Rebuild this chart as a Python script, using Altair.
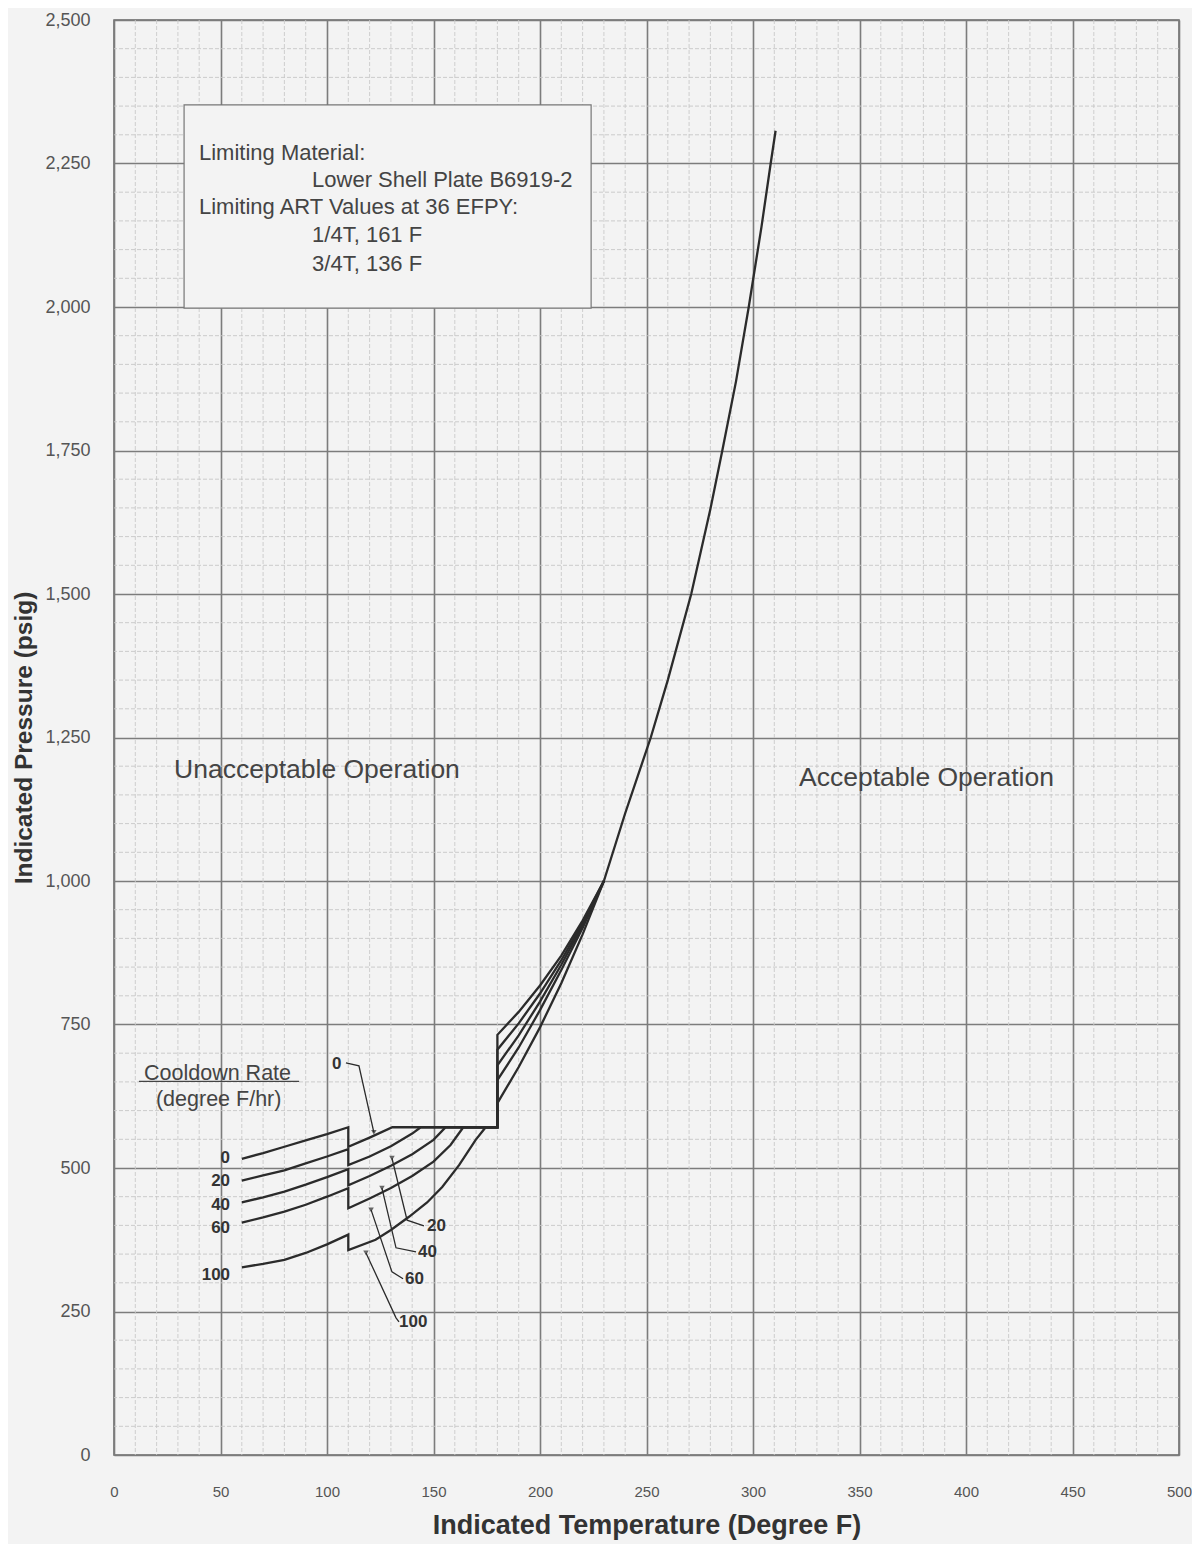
import altair as alt
import pandas as pd

# ---------------- data ----------------
rates = ["0", "20", "40", "60", "100"]

c0_T = [60, 70, 80, 90, 100, 110, 110, 120, 130.7, 180, 180, 190, 200, 210, 220, 230]
c0_P = [516, 526, 537, 548, 559, 571, 537, 553, 571, 571, 732, 772, 818, 870, 931, 1000]

c20_T = [60, 70, 80, 90, 100, 110, 110, 120, 130, 140, 144, 180, 180, 190, 200, 210, 220, 230]
c20_P = [478, 487, 496, 508, 520, 533, 505, 520, 538, 560, 571, 571, 706, 752, 804, 862, 927, 1000]

c40_T = [60, 70, 80, 90, 100, 110, 110, 120, 130, 140, 150, 155.7, 180, 180, 190, 200, 210, 220, 230]
c40_P = [440, 449, 459, 471, 484, 498, 470, 486, 504, 524, 549, 571, 571, 679, 731, 790, 854, 923, 1000]

c60_T = [60, 70, 80, 90, 100, 110, 110, 120, 130, 140, 150, 158, 164, 180, 180, 190, 200, 210, 220, 230]
c60_P = [405, 414, 424, 436, 450, 465, 430, 447, 465, 486, 511, 540, 571, 571, 653, 710, 775, 845, 918, 1000]

c100_T = [60, 70, 80, 90, 100, 110, 110, 122.8, 130, 138.5, 147, 154.1, 162, 169.8, 174.5, 180, 180,
          190, 200, 210, 220, 230]
c100_P = [327, 333, 340, 352, 367, 384, 357, 375, 392, 415, 440, 467, 505, 549, 571, 571, 613,
          676, 745, 822, 907, 1000]

common_T = [230, 240, 252, 260, 271, 280, 285.6, 292, 298, 304, 308.3, 310.6]
common_P = [1000, 1118, 1250, 1350, 1500, 1648, 1750, 1870, 2000, 2140, 2250, 2307]

# tick values
x_ticks = list(range(0, 501, 50))
y_ticks = list(range(0, 2501, 250))
x_minor = [v for v in range(0, 501, 10) if v % 50]
y_minor = [v for v in range(0, 2501, 50) if v % 250]

# curve labels (left side, right side)
left_lab_T = [54.5, 54.5, 54.5, 54.5, 54.5]
left_lab_P = [517, 477, 435, 395, 313]
right_lab_T = [102.3, 147.0, 142.7, 136.6, 133.8]
right_lab_P = [681, 399, 354, 307, 232]

# leader lines (one polyline per rate)
lead_T = [[108.9, 115.0, 122.0], [145.5, 137.6, 130.5], [141.8, 132.4, 125.8],
          [135.7, 130.5, 120.7], [133.8, 132.4, 118.3]]
lead_P = [[683, 678, 562], [399, 409, 517], [354, 361, 465], [307, 319, 427], [232, 239, 352]]

# ---------------- build tables ----------------
curves = {"0": (c0_T, c0_P), "20": (c20_T, c20_P), "40": (c40_T, c40_P),
          "60": (c60_T, c60_P), "100": (c100_T, c100_P), "steady": (common_T, common_P)}
rows = []
for name, (ts, ps) in curves.items():
    for i, (t, p) in enumerate(zip(ts, ps)):
        rows.append({"series": name, "i": i, "T": t, "P": p})
curve_df = pd.DataFrame(rows)

lead_rows = []
for r, ts, ps in zip(rates, lead_T, lead_P):
    for i, (t, p) in enumerate(zip(ts, ps)):
        lead_rows.append({"series": r, "i": i, "T": t, "P": p})
lead_df = pd.DataFrame(lead_rows)
tip_df = lead_df.groupby("series").tail(1)

left_df = pd.DataFrame({"T": left_lab_T, "P": left_lab_P, "lab": rates})
right_df = pd.DataFrame({"T": right_lab_T, "P": right_lab_P, "lab": rates})

FONT = "Liberation Sans"
INK = "#2b2b2b"
TXT = "#444444"
BG = "#f3f3f3"

xs = alt.Scale(domain=[0, 500], nice=False)
ys = alt.Scale(domain=[0, 2500], nice=False)

XAX = alt.Axis(
    values=x_ticks, title="Indicated Temperature (Degree F)", grid=True,
    gridColor="#7c7c7c", gridWidth=1.6, ticks=False, domain=False,
    labelExpr="format(datum.value, 'd')", labelFlush=False,
    labelFont=FONT, labelFontSize=15, labelColor="#555", labelPadding=29,
    titleFont=FONT, titleFontSize=27, titleFontWeight="bold", titleColor="#333",
    titlePadding=13)
YAX = alt.Axis(
    values=y_ticks, title="Indicated Pressure (psig)", grid=True,
    gridColor="#7c7c7c", gridWidth=1.6, ticks=False, domain=False,
    labelExpr="format(datum.value, ',')", labelFlush=False,
    labelFont=FONT, labelFontSize=18, labelColor="#555", labelPadding=24,
    titleFont=FONT, titleFontSize=24.5, titleFontWeight="bold", titleColor="#333",
    titlePadding=8)

def X(field="T"):
    return alt.X(f"{field}:Q", scale=xs, axis=XAX)

def Y(field="P"):
    return alt.Y(f"{field}:Q", scale=ys, axis=YAX)

# minor grid
minor_x = alt.Chart(pd.DataFrame({"T": x_minor})).mark_rule(
    color="#c9c9c9", strokeWidth=0.9, strokeDash=[4, 2]).encode(x=X())
minor_y = alt.Chart(pd.DataFrame({"P": y_minor})).mark_rule(
    color="#c6c6c6", strokeWidth=0.9, strokeDash=[4, 2]).encode(y=Y())

# info box
box = alt.Chart(pd.DataFrame({"T": [32.9], "T2": [224.0], "P": [1998], "P2": [2352]})).mark_rect(
    fill=BG, stroke="#777", strokeWidth=1.2).encode(
    x=X(), x2="T2:Q", y=Y(), y2="P2:Q")

box_text = alt.Chart(pd.DataFrame({
    "T": [39.9, 93.0, 39.9, 93.0, 93.0],
    "P": [2268, 2222, 2175, 2126, 2075],
    "txt": ["Limiting Material:", "Lower Shell Plate B6919-2", "Limiting ART Values at 36 EFPY:",
            "1/4T, 161 F", "3/4T, 136 F"]})).mark_text(
    align="left", baseline="middle", font=FONT, fontSize=22, color=TXT).encode(
    x=X(), y=Y(), text="txt:N")

region_text = alt.Chart(pd.DataFrame({
    "T": [28.2, 321.6], "P": [1193, 1179],
    "txt": ["Unacceptable Operation", "Acceptable Operation"]})).mark_text(
    align="left", baseline="middle", font=FONT, fontSize=26.5, color=TXT).encode(
    x=X(), y=Y(), text="txt:N")

legend_title = alt.Chart(pd.DataFrame({
    "T": [14.1, 19.7], "P": [664, 618], "txt": ["Cooldown Rate", "(degree F/hr)"]})).mark_text(
    align="left", baseline="middle", font=FONT, fontSize=21.5, color=TXT).encode(
    x=X(), y=Y(), text="txt:N")
underline = alt.Chart(pd.DataFrame({"T": [11.7], "T2": [86.9], "P": [651]})).mark_rule(
    color=TXT, strokeWidth=1.4).encode(x=X(), x2="T2:Q", y=Y())

curve_lines = alt.Chart(curve_df).mark_line(color=INK, strokeWidth=2.3).encode(
    x=X(), y=Y(), detail="series:N", order="i:Q")

leaders = alt.Chart(lead_df).mark_line(color=INK, strokeWidth=1.3).encode(
    x=X(), y=Y(), detail="series:N", order="i:Q")
tips = alt.Chart(tip_df).mark_point(filled=True, color=INK, size=30, shape="triangle-down").encode(
    x=X(), y=Y())

left_labels = alt.Chart(left_df).mark_text(
    align="right", baseline="middle", font=FONT, fontSize=17, fontWeight="bold", color="#333").encode(
    x=X(), y=Y(), text="lab:N")
right_labels = alt.Chart(right_df).mark_text(
    align="left", baseline="middle", font=FONT, fontSize=17, fontWeight="bold", color="#333").encode(
    x=X(), y=Y(), text="lab:N")

chart = alt.layer(
    minor_x, minor_y, box, box_text, region_text, legend_title, underline,
    leaders, tips, curve_lines, left_labels, right_labels
).properties(
    width=1065, height=1435,
    padding={"left": 106, "top": 12, "right": 13, "bottom": 90},
    autosize=alt.AutoSizeParams(type="none"),
    background=BG,
).configure_view(stroke="#666", strokeWidth=1.5)

chart.save("out.html", embed_options={"renderer": "svg", "actions": False})
